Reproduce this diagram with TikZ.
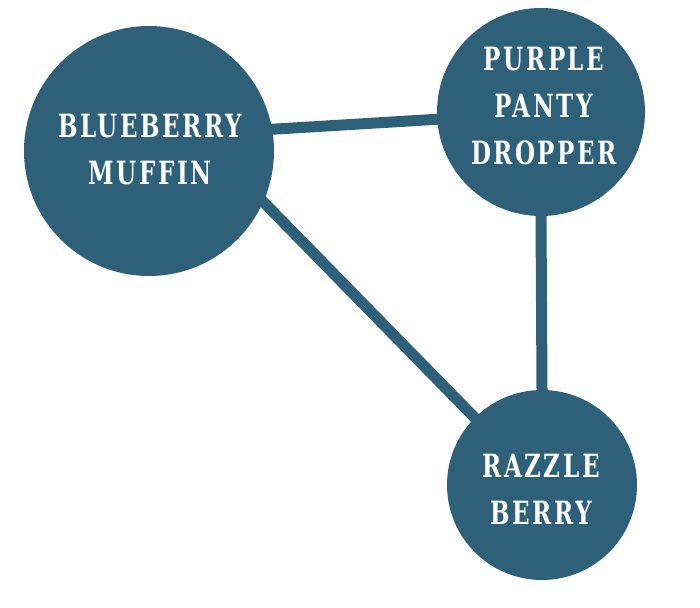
\documentclass[tikz,border=0pt]{standalone}
\usepackage{fontspec}
\newfontfamily\labelfont[LetterSpace=8,FakeStretch=0.8]{DejaVu Serif Condensed Bold}
\usetikzlibrary{backgrounds}
\definecolor{teal}{RGB}{47,96,122}
\begin{document}
\begin{tikzpicture}[x=1pt,y=-1pt,
  bubble/.style={circle,fill=teal,draw=none,inner sep=0pt},
  link/.style={draw=teal,line width=11pt,shorten <=-8pt,shorten >=-8pt},
  caption/.style={text=white,align=center,font=\labelfont\fontsize{32}{47}\selectfont,inner sep=0pt}]
\useasboundingbox (0,0) rectangle (700,607);
\node[bubble,minimum size=250pt] (bm) at (149,151) {};
\node[bubble,minimum size=208pt] (ppd) at (541,112) {};
\node[bubble,minimum size=190pt] (rb) at (542,485) {};
\node[caption] (tbm) at (150,150) {BLUEBERRY\\MUFFIN};
\node[caption] (tppd) at (544,106) {PURPLE\\PANTY\\DROPPER};
\node[caption] (trb) at (541,489) {RAZZLE\\BERRY};
\begin{scope}[on background layer]
\draw[link] (bm.10.5) -- (ppd.184.4);
\draw[link] (bm.-24.1) -- (rb.135.9);
\draw[link] (ppd.south) -- (rb.north);
\end{scope}
\end{tikzpicture}
\end{document}
